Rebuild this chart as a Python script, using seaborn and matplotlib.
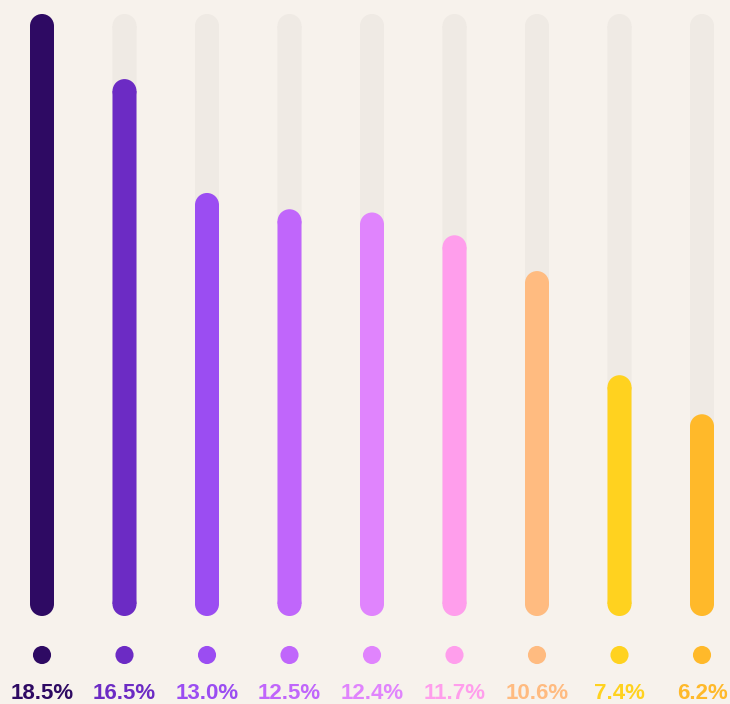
import numpy as np
import pandas as pd
import matplotlib
matplotlib.use("Agg")
import matplotlib.pyplot as plt
from matplotlib.patches import Rectangle, Ellipse
import seaborn as sns

# data
labels = ["18.5%", "16.5%", "13.0%", "12.5%", "12.4%", "11.7%", "10.6%", "7.4%", "6.2%"]
values = [18.5, 16.5, 13.0, 12.5, 12.4, 11.7, 10.6, 7.4, 6.2]
colors = ["#2E0A63", "#6C2BC4", "#9B4DF2", "#C066FB", "#E084FD",
          "#FF9EEC", "#FFBB80", "#FFD21F", "#FFB92A"]
track_max = max(values)

bg = "#F7F2EC"
track_color = "#EFEAE4"

sns.set_theme(style="white")
plt.rcParams["font.family"] = ["Liberation Sans", "DejaVu Sans"]

df = pd.DataFrame({"label": labels, "value": values, "track": [track_max] * len(values)})

fig = plt.figure(figsize=(7.3, 7.04), dpi=100, facecolor=bg)
ax = fig.add_axes([0, 0, 1, 1])
ax.set_facecolor(bg)

bw = 24 / 82.5
sns.barplot(data=df, x="label", y="track", color=track_color, width=bw,
            saturation=1, ax=ax)
sns.barplot(data=df, x="label", y="value", hue="label", palette=colors,
            width=bw, saturation=1, legend=False, ax=ax)

# axis scaling: 82.5 px between bars, 602 px for max value
px_per_y = 602 / track_max
y0 = -88 / px_per_y
xlim = (-42 / 82.5, -42 / 82.5 + 730 / 82.5)
ylim = (y0, y0 + 704 / px_per_y)

# dots
dot_y = y0 + 49 / px_per_y
sns.scatterplot(x=df["label"], y=[dot_y] * len(df), hue=df["label"],
                palette=colors, s=170, linewidth=0, legend=False, ax=ax)

# labels
lab_y = y0 + 5 / px_per_y
for i, (lab, c) in enumerate(zip(labels, colors)):
    ax.text(i, lab_y, lab, ha="center", va="baseline", color=c,
            fontsize=16, fontweight="bold")

ax.set_xlim(*xlim)
ax.set_ylim(*ylim)
ax.axis("off")

# turn bar rectangles into pills: shortened rectangle + round end caps
cap_h = 24 / px_per_y  # cap diameter in y units (bar width in px)
rects = [p for p in ax.patches if isinstance(p, Rectangle)]
for k, p in enumerate(rects):
    x, y = p.get_x(), p.get_y()
    w, h = p.get_width(), p.get_height()
    fc = p.get_facecolor()
    p.remove()
    z = 1 if k < len(labels) else 2
    r = cap_h / 2
    ax.add_patch(Rectangle((x, y + r), w, h - 2 * r, facecolor=fc,
                           edgecolor="none", linewidth=0, zorder=z, snap=False))
    for cy in (y + r, y + h - r):
        ax.add_patch(Ellipse((x + w / 2, cy), w, cap_h, facecolor=fc,
                             edgecolor="none", linewidth=0, zorder=z, snap=False))

fig.savefig("out.png", dpi=100, facecolor=bg)
